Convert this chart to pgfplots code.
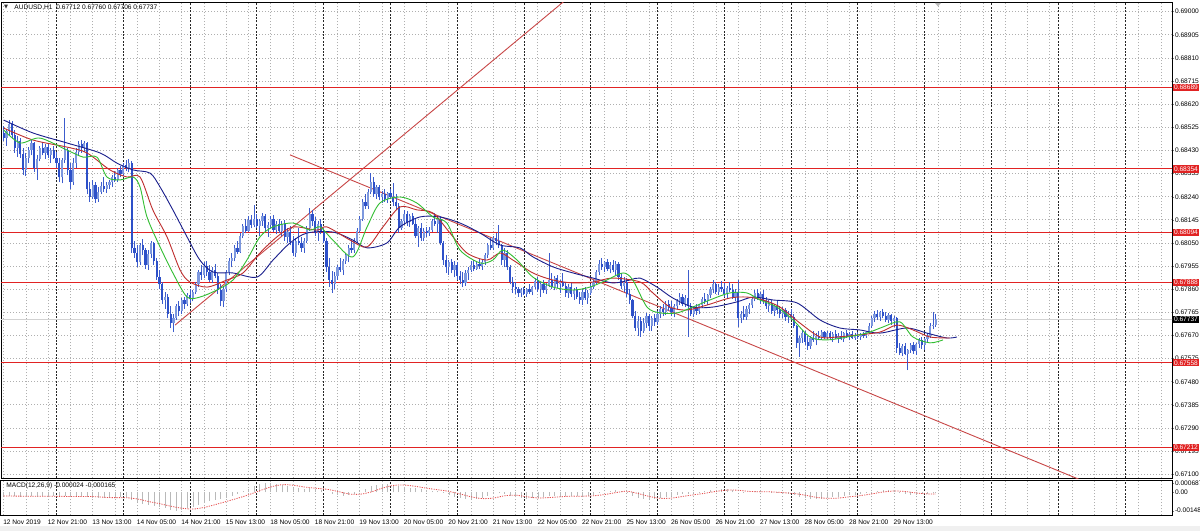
\documentclass[border=0pt]{standalone}
\usepackage{fontspec}
\setmainfont{Liberation Sans}
\newfontfamily\dejavu{DejaVu Sans}
\usepackage{pgfplots}
\usepackage{pgfplotstable}
\pgfplotsset{compat=1.18}
\newcommand\tf{\fontsize{3.3}{3.8}\selectfont}

\definecolor{cbear}{RGB}{45,80,200}
\definecolor{cbull}{RGB}{125,152,222}
\definecolor{cwick}{RGB}{60,92,205}
\definecolor{cjaw}{RGB}{25,30,140}
\definecolor{cteeth}{RGB}{190,45,45}
\definecolor{clips}{RGB}{50,190,50}
\definecolor{chl}{RGB}{225,35,35}
\definecolor{ctl}{RGB}{200,70,70}
\definecolor{cgrid}{RGB}{175,175,175}

% AUDUSD H1 candles: bar index, open, high, low, close
\pgfplotstableread{
i o h l c
0 0.68500 0.68530 0.68470 0.68480
1 0.68480 0.68520 0.68450 0.68510
2 0.68510 0.68555 0.68490 0.68540
3 0.68540 0.68550 0.68480 0.68495
4 0.68495 0.68515 0.68420 0.68440
5 0.68440 0.68490 0.68405 0.68470
6 0.68470 0.68480 0.68400 0.68415
7 0.68415 0.68440 0.68330 0.68350
8 0.68350 0.68420 0.68325 0.68400
9 0.68400 0.68445 0.68380 0.68430
10 0.68430 0.68475 0.68410 0.68460
11 0.68460 0.68465 0.68340 0.68360
12 0.68360 0.68410 0.68310 0.68395
13 0.68395 0.68450 0.68385 0.68440
14 0.68440 0.68465 0.68410 0.68420
15 0.68420 0.68455 0.68395 0.68445
16 0.68445 0.68460 0.68400 0.68410
17 0.68410 0.68440 0.68380 0.68430
18 0.68430 0.68450 0.68395 0.68400
19 0.68400 0.68425 0.68360 0.68380
20 0.68380 0.68400 0.68300 0.68320
21 0.68320 0.68400 0.68295 0.68390
22 0.68390 0.68565 0.68380 0.68430
23 0.68430 0.68440 0.68330 0.68350
24 0.68350 0.68380 0.68270 0.68300
25 0.68300 0.68400 0.68290 0.68380
26 0.68380 0.68440 0.68360 0.68425
27 0.68425 0.68470 0.68410 0.68455
28 0.68455 0.68475 0.68420 0.68440
29 0.68440 0.68470 0.68425 0.68460
30 0.68460 0.68465 0.68250 0.68270
31 0.68270 0.68300 0.68220 0.68240
32 0.68240 0.68310 0.68230 0.68290
33 0.68290 0.68300 0.68215 0.68230
34 0.68230 0.68280 0.68220 0.68260
35 0.68260 0.68300 0.68250 0.68285
36 0.68285 0.68320 0.68260 0.68270
37 0.68270 0.68300 0.68255 0.68290
38 0.68290 0.68310 0.68270 0.68300
39 0.68300 0.68330 0.68280 0.68320
40 0.68320 0.68345 0.68300 0.68310
41 0.68310 0.68360 0.68300 0.68350
42 0.68350 0.68365 0.68320 0.68335
43 0.68335 0.68380 0.68325 0.68370
44 0.68370 0.68390 0.68345 0.68360
45 0.68360 0.68395 0.68340 0.68380
46 0.68380 0.68385 0.68010 0.68030
47 0.68030 0.68060 0.67990 0.68010
48 0.68010 0.68040 0.67950 0.67970
49 0.67970 0.68050 0.67960 0.68040
50 0.68040 0.68065 0.68000 0.68020
51 0.68020 0.68030 0.67945 0.67960
52 0.67960 0.68020 0.67940 0.68005
53 0.68005 0.68060 0.67990 0.68050
54 0.68050 0.68055 0.67960 0.67975
55 0.67975 0.67990 0.67900 0.67910
56 0.67910 0.67940 0.67860 0.67880
57 0.67880 0.67890 0.67800 0.67815
58 0.67815 0.67850 0.67780 0.67830
59 0.67830 0.67840 0.67740 0.67760
60 0.67760 0.67790 0.67700 0.67720
61 0.67720 0.67760 0.67684 0.67740
62 0.67740 0.67800 0.67735 0.67790
63 0.67790 0.67810 0.67750 0.67770
64 0.67770 0.67825 0.67760 0.67815
65 0.67815 0.67830 0.67780 0.67800
66 0.67800 0.67845 0.67790 0.67835
67 0.67835 0.67860 0.67805 0.67820
68 0.67820 0.67855 0.67810 0.67850
69 0.67850 0.67890 0.67840 0.67880
70 0.67880 0.67940 0.67870 0.67930
71 0.67930 0.67960 0.67900 0.67920
72 0.67920 0.67970 0.67905 0.67955
73 0.67955 0.67975 0.67915 0.67930
74 0.67930 0.67960 0.67890 0.67900
75 0.67900 0.67950 0.67885 0.67940
76 0.67940 0.67965 0.67905 0.67915
77 0.67915 0.67925 0.67840 0.67855
78 0.67855 0.67880 0.67790 0.67810
79 0.67810 0.67870 0.67787 0.67860
80 0.67860 0.67940 0.67850 0.67930
81 0.67930 0.67990 0.67920 0.67975
82 0.67975 0.68010 0.67950 0.67990
83 0.67990 0.68040 0.67975 0.68030
84 0.68030 0.68060 0.68005 0.68015
85 0.68015 0.68090 0.68010 0.68080
86 0.68080 0.68130 0.68070 0.68120
87 0.68120 0.68150 0.68090 0.68100
88 0.68100 0.68160 0.68095 0.68145
89 0.68145 0.68165 0.68110 0.68125
90 0.68125 0.68206 0.68115 0.68150
91 0.68150 0.68170 0.68110 0.68120
92 0.68120 0.68150 0.68080 0.68140
93 0.68140 0.68175 0.68120 0.68160
94 0.68160 0.68170 0.68100 0.68110
95 0.68110 0.68135 0.68075 0.68125
96 0.68125 0.68160 0.68110 0.68150
97 0.68150 0.68165 0.68095 0.68105
98 0.68105 0.68140 0.68085 0.68130
99 0.68130 0.68150 0.68090 0.68100
100 0.68100 0.68140 0.68080 0.68130
101 0.68130 0.68145 0.68060 0.68075
102 0.68075 0.68110 0.68050 0.68095
103 0.68095 0.68120 0.68040 0.68055
104 0.68055 0.68080 0.67995 0.68010
105 0.68010 0.68070 0.67993 0.68060
106 0.68060 0.68110 0.68040 0.68050
107 0.68050 0.68075 0.68015 0.68030
108 0.68030 0.68070 0.68010 0.68060
109 0.68060 0.68120 0.68050 0.68110
110 0.68110 0.68194 0.68100 0.68170
111 0.68170 0.68185 0.68120 0.68140
112 0.68140 0.68157 0.68080 0.68090
113 0.68090 0.68140 0.68060 0.68130
114 0.68130 0.68150 0.68085 0.68100
115 0.68100 0.68110 0.68050 0.68060
116 0.68060 0.68070 0.67930 0.67950
117 0.67950 0.67990 0.67870 0.67900
118 0.67900 0.67935 0.67845 0.67880
119 0.67880 0.67930 0.67860 0.67915
120 0.67915 0.67960 0.67900 0.67950
121 0.67950 0.67990 0.67930 0.67940
122 0.67940 0.67985 0.67920 0.67975
123 0.67975 0.68010 0.67965 0.68000
124 0.68000 0.68040 0.67970 0.68030
125 0.68030 0.68062 0.68010 0.68020
126 0.68020 0.68070 0.68010 0.68060
127 0.68060 0.68110 0.68050 0.68100
128 0.68100 0.68160 0.68090 0.68150
129 0.68150 0.68230 0.68140 0.68220
130 0.68220 0.68250 0.68190 0.68200
131 0.68200 0.68270 0.68190 0.68260
132 0.68260 0.68337 0.68250 0.68300
133 0.68300 0.68320 0.68240 0.68250
134 0.68250 0.68290 0.68230 0.68280
135 0.68280 0.68290 0.68225 0.68240
136 0.68240 0.68265 0.68214 0.68250
137 0.68250 0.68270 0.68220 0.68230
138 0.68230 0.68260 0.68215 0.68255
139 0.68255 0.68270 0.68230 0.68240
140 0.68240 0.68296 0.68200 0.68220
141 0.68220 0.68250 0.68186 0.68200
142 0.68200 0.68214 0.68091 0.68110
143 0.68110 0.68150 0.68105 0.68140
144 0.68140 0.68186 0.68125 0.68170
145 0.68170 0.68180 0.68120 0.68135
146 0.68135 0.68170 0.68116 0.68160
147 0.68160 0.68175 0.68125 0.68130
148 0.68130 0.68150 0.68070 0.68080
149 0.68080 0.68120 0.68034 0.68110
150 0.68110 0.68132 0.68060 0.68070
151 0.68070 0.68110 0.68060 0.68100
152 0.68100 0.68116 0.68075 0.68090
153 0.68090 0.68115 0.68080 0.68105
154 0.68105 0.68150 0.68095 0.68140
155 0.68140 0.68173 0.68120 0.68130
156 0.68130 0.68160 0.68091 0.68150
157 0.68150 0.68160 0.68040 0.68050
158 0.68050 0.68060 0.67960 0.67980
159 0.67980 0.68000 0.67927 0.67950
160 0.67950 0.67980 0.67920 0.67970
161 0.67970 0.67985 0.67925 0.67940
162 0.67940 0.67975 0.67910 0.67960
163 0.67960 0.67970 0.67900 0.67915
164 0.67915 0.67935 0.67880 0.67900
165 0.67900 0.67930 0.67869 0.67885
166 0.67885 0.67939 0.67875 0.67925
167 0.67925 0.67950 0.67900 0.67940
168 0.67940 0.67975 0.67930 0.67960
169 0.67960 0.67980 0.67935 0.67945
170 0.67945 0.67975 0.67940 0.67965
171 0.67965 0.67985 0.67945 0.67955
172 0.67955 0.67980 0.67940 0.67970
173 0.67970 0.68010 0.67960 0.68000
174 0.68000 0.68050 0.67990 0.68040
175 0.68040 0.68070 0.68020 0.68030
176 0.68030 0.68080 0.68020 0.68070
177 0.68070 0.68091 0.68040 0.68060
178 0.68060 0.68124 0.68030 0.68040
179 0.68040 0.68045 0.67960 0.67980
180 0.67980 0.68030 0.67950 0.68010
181 0.68010 0.68020 0.67940 0.67950
182 0.67950 0.67960 0.67880 0.67890
183 0.67890 0.67910 0.67845 0.67870
184 0.67870 0.67890 0.67840 0.67860
185 0.67860 0.67869 0.67830 0.67845
186 0.67845 0.67865 0.67828 0.67855
187 0.67855 0.67870 0.67835 0.67840
188 0.67840 0.67865 0.67830 0.67860
189 0.67860 0.67880 0.67840 0.67850
190 0.67850 0.67875 0.67835 0.67870
191 0.67870 0.67905 0.67860 0.67895
192 0.67895 0.67910 0.67850 0.67860
193 0.67860 0.67890 0.67830 0.67880
194 0.67880 0.67900 0.67845 0.67855
195 0.67855 0.67885 0.67840 0.67875
196 0.67875 0.68009 0.67870 0.67900
197 0.67900 0.67927 0.67860 0.67870
198 0.67870 0.67915 0.67855 0.67905
199 0.67905 0.67920 0.67865 0.67880
200 0.67880 0.67900 0.67845 0.67890
201 0.67890 0.67925 0.67870 0.67875
202 0.67875 0.67890 0.67830 0.67845
203 0.67845 0.67880 0.67825 0.67870
204 0.67870 0.67886 0.67830 0.67840
205 0.67840 0.67865 0.67816 0.67855
206 0.67855 0.67870 0.67820 0.67830
207 0.67830 0.67850 0.67800 0.67815
208 0.67815 0.67860 0.67795 0.67850
209 0.67850 0.67869 0.67815 0.67825
210 0.67825 0.67855 0.67800 0.67845
211 0.67845 0.67880 0.67835 0.67870
212 0.67870 0.67898 0.67860 0.67890
213 0.67890 0.67940 0.67880 0.67930
214 0.67930 0.67980 0.67920 0.67965
215 0.67965 0.67990 0.67940 0.67950
216 0.67950 0.67975 0.67930 0.67970
217 0.67970 0.67985 0.67935 0.67945
218 0.67945 0.67970 0.67925 0.67960
219 0.67960 0.67980 0.67930 0.67940
220 0.67940 0.67975 0.67920 0.67965
221 0.67965 0.67970 0.67900 0.67910
222 0.67910 0.67927 0.67860 0.67875
223 0.67875 0.67910 0.67850 0.67890
224 0.67890 0.67905 0.67830 0.67840
225 0.67840 0.67860 0.67800 0.67815
226 0.67815 0.67820 0.67740 0.67750
227 0.67750 0.67770 0.67690 0.67700
228 0.67700 0.67750 0.67670 0.67730
229 0.67730 0.67745 0.67664 0.67690
230 0.67690 0.67740 0.67680 0.67720
231 0.67720 0.67762 0.67700 0.67750
232 0.67750 0.67760 0.67690 0.67710
233 0.67710 0.67750 0.67690 0.67740
234 0.67740 0.67760 0.67710 0.67725
235 0.67725 0.67770 0.67715 0.67760
236 0.67760 0.67790 0.67740 0.67780
237 0.67780 0.67800 0.67750 0.67765
238 0.67765 0.67810 0.67755 0.67800
239 0.67800 0.67816 0.67770 0.67785
240 0.67785 0.67810 0.67750 0.67765
241 0.67765 0.67800 0.67745 0.67790
242 0.67790 0.67820 0.67780 0.67810
243 0.67810 0.67845 0.67795 0.67830
244 0.67830 0.67840 0.67790 0.67800
245 0.67800 0.67835 0.67787 0.67825
246 0.67825 0.67939 0.67664 0.67790
247 0.67790 0.67804 0.67750 0.67760
248 0.67760 0.67790 0.67746 0.67785
249 0.67785 0.67800 0.67755 0.67770
250 0.67770 0.67800 0.67760 0.67795
251 0.67795 0.67830 0.67785 0.67820
252 0.67820 0.67845 0.67800 0.67810
253 0.67810 0.67840 0.67795 0.67835
254 0.67835 0.67870 0.67825 0.67860
255 0.67860 0.67898 0.67845 0.67880
256 0.67880 0.67890 0.67840 0.67850
257 0.67850 0.67880 0.67835 0.67870
258 0.67870 0.67895 0.67850 0.67860
259 0.67860 0.67885 0.67830 0.67840
260 0.67840 0.67875 0.67825 0.67865
261 0.67865 0.67890 0.67850 0.67855
262 0.67855 0.67880 0.67820 0.67830
263 0.67830 0.67860 0.67810 0.67850
264 0.67850 0.67898 0.67705 0.67740
265 0.67740 0.67770 0.67721 0.67760
266 0.67760 0.67790 0.67735 0.67745
267 0.67745 0.67790 0.67735 0.67780
268 0.67780 0.67804 0.67760 0.67795
269 0.67795 0.67830 0.67785 0.67820
270 0.67820 0.67857 0.67810 0.67845
271 0.67845 0.67860 0.67815 0.67825
272 0.67825 0.67850 0.67800 0.67840
273 0.67840 0.67855 0.67800 0.67810
274 0.67810 0.67830 0.67780 0.67790
275 0.67790 0.67816 0.67765 0.67805
276 0.67805 0.67815 0.67760 0.67770
277 0.67770 0.67800 0.67750 0.67790
278 0.67790 0.67810 0.67760 0.67775
279 0.67775 0.67790 0.67740 0.67760
280 0.67760 0.67787 0.67740 0.67775
281 0.67775 0.67785 0.67730 0.67745
282 0.67745 0.67770 0.67721 0.67760
283 0.67760 0.67780 0.67735 0.67745
284 0.67745 0.67760 0.67700 0.67710
285 0.67710 0.67715 0.67620 0.67640
286 0.67640 0.67670 0.67582 0.67660
287 0.67660 0.67693 0.67640 0.67680
288 0.67680 0.67690 0.67630 0.67645
289 0.67645 0.67670 0.67611 0.67625
290 0.67625 0.67670 0.67615 0.67660
291 0.67660 0.67690 0.67645 0.67650
292 0.67650 0.67680 0.67630 0.67670
293 0.67670 0.67690 0.67650 0.67660
294 0.67660 0.67693 0.67652 0.67685
295 0.67685 0.67690 0.67655 0.67665
296 0.67665 0.67690 0.67655 0.67680
297 0.67680 0.67690 0.67652 0.67660
298 0.67660 0.67685 0.67645 0.67675
299 0.67675 0.67693 0.67655 0.67660
300 0.67660 0.67680 0.67639 0.67670
301 0.67670 0.67690 0.67650 0.67655
302 0.67655 0.67685 0.67645 0.67680
303 0.67680 0.67693 0.67660 0.67665
304 0.67665 0.67685 0.67650 0.67675
305 0.67675 0.67690 0.67655 0.67660
306 0.67660 0.67680 0.67652 0.67670
307 0.67670 0.67685 0.67655 0.67662
308 0.67662 0.67680 0.67652 0.67675
309 0.67675 0.67685 0.67660 0.67668
310 0.67668 0.67690 0.67660 0.67685
311 0.67685 0.67720 0.67675 0.67710
312 0.67710 0.67750 0.67700 0.67740
313 0.67740 0.67770 0.67725 0.67760
314 0.67760 0.67775 0.67735 0.67745
315 0.67745 0.67770 0.67730 0.67765
316 0.67765 0.67780 0.67740 0.67750
317 0.67750 0.67765 0.67725 0.67735
318 0.67735 0.67762 0.67720 0.67755
319 0.67755 0.67760 0.67715 0.67730
320 0.67730 0.67750 0.67705 0.67740
321 0.67740 0.67745 0.67600 0.67620
322 0.67620 0.67640 0.67590 0.67600
323 0.67600 0.67635 0.67585 0.67625
324 0.67625 0.67639 0.67590 0.67595
325 0.67595 0.67615 0.67528 0.67610
326 0.67610 0.67640 0.67600 0.67630
327 0.67630 0.67645 0.67595 0.67605
328 0.67605 0.67640 0.67590 0.67635
329 0.67635 0.67660 0.67620 0.67650
330 0.67650 0.67664 0.67615 0.67630
331 0.67630 0.67660 0.67611 0.67655
332 0.67655 0.67680 0.67640 0.67670
333 0.67670 0.67720 0.67660 0.67710
334 0.67710 0.67767 0.67695 0.67712
335 0.67712 0.67760 0.67706 0.67737
}\candles

% MACD main (histogram)
\pgfplotstableread{
i m
0 -0.00030
2 -0.00028
4 -0.00032
6 -0.00036
8 -0.00038
10 -0.00034
12 -0.00036
14 -0.00033
16 -0.00032
18 -0.00034
20 -0.00038
22 -0.00035
24 -0.00038
26 -0.00034
28 -0.00030
30 -0.00036
32 -0.00045
34 -0.00050
36 -0.00050
38 -0.00048
40 -0.00046
42 -0.00042
44 -0.00040
46 -0.00060
48 -0.00080
50 -0.00092
52 -0.00100
54 -0.00108
56 -0.00118
58 -0.00130
60 -0.00142
62 -0.00148
64 -0.00140
66 -0.00128
68 -0.00115
70 -0.00100
72 -0.00085
74 -0.00072
76 -0.00062
78 -0.00058
80 -0.00045
82 -0.00030
84 -0.00012
86 0.00005
88 0.00025
90 0.00045
92 0.00060
94 0.00068
96 0.00069
98 0.00064
100 0.00056
102 0.00045
104 0.00035
106 0.00028
108 0.00025
110 0.00028
112 0.00026
114 0.00018
116 0.00000
118 -0.00015
120 -0.00025
122 -0.00028
124 -0.00022
126 -0.00012
128 0.00005
130 0.00025
132 0.00045
134 0.00058
136 0.00063
138 0.00062
140 0.00058
142 0.00045
144 0.00038
146 0.00035
148 0.00028
150 0.00020
152 0.00012
154 0.00008
156 0.00006
158 -0.00010
160 -0.00025
162 -0.00038
164 -0.00048
166 -0.00055
168 -0.00058
170 -0.00055
172 -0.00045
174 -0.00030
176 -0.00015
178 -0.00008
180 -0.00015
182 -0.00028
184 -0.00040
186 -0.00048
188 -0.00052
190 -0.00050
192 -0.00045
194 -0.00040
196 -0.00035
198 -0.00030
200 -0.00030
202 -0.00032
204 -0.00035
206 -0.00035
208 -0.00033
210 -0.00030
212 -0.00022
214 -0.00010
216 0.00000
218 0.00008
220 0.00012
222 0.00008
224 -0.00010
226 -0.00028
228 -0.00045
230 -0.00055
232 -0.00058
234 -0.00055
236 -0.00048
238 -0.00040
240 -0.00032
242 -0.00022
244 -0.00015
246 -0.00012
248 -0.00008
250 -0.00003
252 0.00005
254 0.00012
256 0.00018
258 0.00022
260 0.00020
262 0.00015
264 0.00000
266 -0.00003
268 0.00000
270 0.00005
272 0.00005
274 0.00000
276 -0.00005
278 -0.00008
280 -0.00012
282 -0.00015
284 -0.00022
286 -0.00038
288 -0.00048
290 -0.00055
292 -0.00055
294 -0.00052
296 -0.00048
298 -0.00042
300 -0.00036
302 -0.00030
304 -0.00025
306 -0.00020
308 -0.00015
310 -0.00008
312 0.00002
314 0.00010
316 0.00014
318 0.00014
320 0.00012
322 -0.00005
324 -0.00015
326 -0.00020
328 -0.00020
330 -0.00016
332 -0.00012
334 -0.00004
335 -0.000024
}\macdmain

% MACD signal
\pgfplotstableread{
i s
0 -0.00032
8 -0.00033
16 -0.00034
24 -0.00035
32 -0.00036
38 -0.00044
44 -0.00045
48 -0.00055
52 -0.00075
56 -0.00092
60 -0.00112
64 -0.00128
68 -0.00135
72 -0.00122
76 -0.00100
80 -0.00075
84 -0.00050
88 -0.00022
92 0.00010
96 0.00040
100 0.00058
104 0.00054
108 0.00040
112 0.00030
116 0.00022
120 0.00005
124 -0.00015
128 -0.00018
132 0.00000
136 0.00030
140 0.00052
144 0.00055
148 0.00045
152 0.00030
156 0.00018
160 0.00005
164 -0.00015
168 -0.00038
172 -0.00052
176 -0.00048
180 -0.00030
184 -0.00025
188 -0.00038
192 -0.00047
196 -0.00044
200 -0.00038
204 -0.00033
208 -0.00033
212 -0.00030
216 -0.00020
220 -0.00005
224 0.00006
228 -0.00012
232 -0.00035
236 -0.00050
240 -0.00048
244 -0.00035
248 -0.00022
252 -0.00010
256 0.00005
260 0.00015
264 0.00014
268 0.00005
272 0.00002
276 0.00001
280 -0.00005
284 -0.00012
288 -0.00025
292 -0.00042
296 -0.00050
300 -0.00048
304 -0.00038
308 -0.00028
312 -0.00015
316 0.00000
320 0.00008
324 0.00004
328 -0.00008
332 -0.00015
335 -0.000165
}\macdsig

\pgfplotsset{
  mtgrid/.style={
    xtick={0,8,...,416}, xmajorgrids, ymajorgrids,
    major grid style={cgrid, dash pattern=on 0.6pt off 0.9pt, line width=0.45pt},
    extra x ticks={19,43,...,403}, extra x tick labels={},
    extra x tick style={grid=major, major grid style={black!85, dash pattern=on 1pt off 0.7pt, line width=0.45pt}},
  },
}

\begin{document}
\begin{tikzpicture}
\fill[white] (0,0) rectangle (600pt,265.5pt);
\fill[gray!12] (0,0) rectangle (600pt,2.5pt);
\useasboundingbox (0,0) rectangle (600pt,265.5pt);

\begin{axis}[
  at={(0.5pt,26.5pt)}, anchor=south west,
  scale only axis, width=585.5pt, height=237.5pt,
  xmin=-0.97, xmax=419.9, ymin=0.670849, ymax=0.690357,
  axis line style={black, line width=0.5pt},
  clip mode=individual,
  mtgrid, xticklabels={}, xtick style={draw=none},
  ytick={0.67100,0.67195,0.67290,0.67385,0.67480,0.67575,0.67670,0.67765,0.67860,0.67955,0.68050,0.68145,0.68240,0.68335,0.68430,0.68525,0.68620,0.68715,0.68810,0.68905,0.69000},
  yticklabels={0.67100,0.67195,0.67290,0.67385,0.67480,0.67575,0.67670,0.67765,0.67860,0.67955,0.68050,0.68145,0.68240,0.68335,0.68430,0.68525,0.68620,0.68715,0.68810,0.68905,0.69000},
  ytick pos=right, yticklabel pos=right, tick align=outside,
  major tick length=1pt, scaled y ticks=false,
  yticklabel style={font=\tf, inner sep=0.3pt},
  ]
  % bid line
  \addplot[gray!35, line width=0.5pt] coordinates {(-2,0.67737) (421,0.67737)};
  % horizontal levels
  \addplot[chl, line width=0.5pt] coordinates {(-2,0.68689) (421,0.68689)};
  \addplot[chl, line width=0.5pt] coordinates {(-2,0.68354) (421,0.68354)};
  \addplot[chl, line width=0.5pt] coordinates {(-2,0.68094) (421,0.68094)};
  \addplot[chl, line width=0.5pt] coordinates {(-2,0.67888) (421,0.67888)};
  \addplot[chl, line width=0.5pt] coordinates {(-2,0.67558) (421,0.67558)};
  \addplot[chl, line width=0.5pt] coordinates {(-2,0.67212) (421,0.67212)};
  % trend lines
  \addplot[ctl, line width=0.45pt] coordinates {(61.6,0.67713) (205,0.69077)};
  \addplot[ctl, line width=0.45pt] coordinates {(102.9,0.68412) (400,0.67016)};
  % wicks
  \addplot[draw=none, mark=none, error bars/.cd, y dir=plus, y explicit, error mark=none,
    error bar style={draw=cwick, line width=0.5pt}]
    table[x=i, y=l, y error expr=\thisrow{h}-\thisrow{l}] {\candles};
  % bull bodies
  \addplot[draw=none, mark=none, restrict expr to domain={\thisrow{c}-\thisrow{o}}{0:1},
    error bars/.cd, y dir=plus, y explicit, error mark=none,
    error bar style={draw=cbull, line width=1.1pt}]
    table[x=i, y=o, y error expr=\thisrow{c}-\thisrow{o}] {\candles};
  % bear bodies
  \addplot[draw=none, mark=none, restrict expr to domain={\thisrow{o}-\thisrow{c}}{0.000001:1},
    error bars/.cd, y dir=plus, y explicit, error mark=none,
    error bar style={draw=cbear, line width=1.1pt}]
    table[x=i, y=c, y error expr=\thisrow{o}-\thisrow{c}] {\candles};
  % Alligator: jaw
  \addplot[cjaw, line width=0.45pt, smooth] coordinates {
    (0,0.68555) (10.5,0.68502) (22.7,0.68461) (34.6,0.68420) (40.7,0.68378) (46.5,0.68350)
    (52.6,0.68337) (56.2,0.68280) (60.8,0.68186) (65.9,0.68075) (70.5,0.67980) (75.2,0.67931)
    (82.4,0.67927) (91.0,0.67910) (96.8,0.67980) (102.9,0.68050) (109.0,0.68091) (118.3,0.68095)
    (125.5,0.68062) (130.6,0.68030) (137.7,0.68050) (142.4,0.68116) (149.6,0.68157) (156.8,0.68157)
    (164.0,0.68132) (171.2,0.68091) (178.4,0.68042) (185.5,0.68030) (190.2,0.67993) (197.4,0.67952)
    (204.6,0.67927) (211.8,0.67906) (219.0,0.67886) (225.1,0.67898) (228.7,0.67906) (234.8,0.67869)
    (240.5,0.67824) (247.7,0.67787) (254.9,0.67787) (263.5,0.67808) (269.3,0.67828) (276.5,0.67816)
    (285.1,0.67804) (293.4,0.67734) (300.5,0.67701) (307.7,0.67693) (314.9,0.67680) (324.6,0.67701)
    (331.8,0.67680) (339.0,0.67660) (342.6,0.67664)};
  % teeth
  \addplot[cteeth, line width=0.45pt, smooth] coordinates {
    (0,0.68522) (10.5,0.68473) (22.7,0.68444) (29.9,0.68420) (38.2,0.68350) (44.3,0.68321)
    (49.0,0.68321) (53.6,0.68186) (58.7,0.68075) (63.4,0.67939) (66.9,0.67890) (73.1,0.67869)
    (80.2,0.67898) (86.0,0.67927) (92.1,0.68009) (98.2,0.68075) (104.0,0.68116) (112.6,0.68103)
    (116.2,0.68116) (124.5,0.68062) (130.6,0.68034) (136.3,0.68116) (142.4,0.68198) (148.5,0.68186)
    (154.3,0.68173) (160.4,0.68091) (166.5,0.68009) (173.7,0.67980) (178.4,0.68009) (183.0,0.67980)
    (190.2,0.67927) (197.4,0.67898) (204.6,0.67886) (211.8,0.67890) (219.0,0.67906) (228.7,0.67890)
    (233.3,0.67845) (239.5,0.67787) (245.6,0.67775) (252.7,0.67795) (261.0,0.67824) (267.1,0.67828)
    (272.9,0.67816) (279.0,0.67787) (286.2,0.67721) (293.4,0.67664) (299.5,0.67664) (306.7,0.67672)
    (314.9,0.67684) (321.0,0.67713) (326.8,0.67693) (332.9,0.67664) (340.0,0.67660)};
  % lips
  \addplot[clips, line width=0.45pt, smooth] coordinates {
    (0,0.68514) (5.9,0.68461) (13.0,0.68481) (22.7,0.68432) (28.5,0.68403) (33.5,0.68403)
    (37.1,0.68321) (41.8,0.68309) (46.5,0.68321) (49.0,0.68280) (51.5,0.68157) (56.2,0.68034)
    (60.8,0.67927) (65.9,0.67828) (70.5,0.67828) (76.6,0.67857) (82.4,0.67898) (87.4,0.67980)
    (92.1,0.68075) (96.8,0.68116) (104.0,0.68132) (110.1,0.68103) (113.7,0.68116) (118.3,0.68062)
    (125.5,0.67993) (130.6,0.68116) (135.2,0.68214) (142.4,0.68239) (148.5,0.68214) (154.3,0.68157)
    (159.3,0.68132) (164.0,0.68021) (171.2,0.67968) (175.8,0.67980) (179.4,0.68021) (184.5,0.67980)
    (190.2,0.67910) (197.4,0.67869) (204.6,0.67857) (210.7,0.67869) (216.8,0.67898) (222.6,0.67927)
    (226.1,0.67898) (231.2,0.67787) (235.9,0.67763) (242.0,0.67763) (247.7,0.67787) (253.8,0.67816)
    (261.0,0.67845) (267.1,0.67845) (271.8,0.67816) (277.9,0.67787) (283.7,0.67734) (289.8,0.67664)
    (295.9,0.67652) (303.1,0.67664) (310.2,0.67680) (316.0,0.67705) (322.1,0.67726) (326.8,0.67664)
    (332.9,0.67640) (337.6,0.67652)};
  \coordinate (L1) at (axis cs:419.9,0.68689);
  \coordinate (L2) at (axis cs:419.9,0.68354);
  \coordinate (L3) at (axis cs:419.9,0.68094);
  \coordinate (L4) at (axis cs:419.9,0.67888);
  \coordinate (L5) at (axis cs:419.9,0.67558);
  \coordinate (L6) at (axis cs:419.9,0.67212);
  \coordinate (LB) at (axis cs:419.9,0.67737);
\end{axis}

\begin{axis}[
  at={(0.5pt,8pt)}, anchor=south west,
  scale only axis, width=585.5pt, height=17.5pt,
  xmin=-0.97, xmax=419.9, ymin=-0.00182, ymax=0.00095,
  axis line style={black, line width=0.5pt},
  clip mode=individual,
  mtgrid, ymajorgrids=false,
  xticklabels={12 Nov 2019,,12 Nov 21:00,,13 Nov 13:00,,14 Nov 05:00,,14 Nov 21:00,,15 Nov 13:00,,18 Nov 05:00,,18 Nov 21:00,,19 Nov 13:00,,20 Nov 05:00,,20 Nov 21:00,,21 Nov 13:00,,22 Nov 05:00,,22 Nov 21:00,,25 Nov 13:00,,26 Nov 05:00,,26 Nov 21:00,,27 Nov 13:00,,28 Nov 05:00,,28 Nov 21:00,,29 Nov 13:00},
  xtick style={draw=none},
  tick align=outside, major tick length=1pt,
  xticklabel style={font=\tf, anchor=north west, inner sep=0pt, xshift=-0.4pt, yshift=-1.4pt},
  ytick={-0.00148,0,0.000687}, yticklabels={-0.00148,0.00,0.000687},
  ytick pos=right, yticklabel pos=right, scaled y ticks=false,
  yticklabel style={font=\tf, inner sep=0.3pt},
  ]
  \addplot[ycomb, gray!55, line width=0.35pt] table[x=i, y=m] {\macdmain};
  \addplot[chl!80, line width=0.4pt, dash pattern=on 0.6pt off 0.6pt, smooth] table[x=i, y=s] {\macdsig};
\end{axis}

% price labels on the right
\foreach \c/\t in {L1/0.68689, L2/0.68354, L3/0.68094, L4/0.67888, L5/0.67558, L6/0.67212}
  \node[fill=chl, text=white, font=\tf, anchor=west, inner xsep=0.5pt, inner ysep=0.6pt, xshift=0.3pt] at (\c) {\t};
\node[fill=black, text=white, font=\tf, anchor=west, inner xsep=0.5pt, inner ysep=0.6pt, xshift=0.3pt] at (LB) {0.67737};

% headers
\node[anchor=center, inner sep=0pt, font=\fontsize{2.6}{3}\dejavu, text=black!80] at (3pt,261.9pt) {▼};
\node[anchor=west, inner sep=0pt, font=\tf] at (7pt,261.9pt) {AUDUSD,H1};
\node[anchor=west, inner sep=0pt, font=\tf] at (28pt,261.9pt) {0.67712 0.67760 0.67706 0.67737};
\node[anchor=west, inner sep=0pt, font=\tf] at (3pt,22.5pt) {MACD(12,26,9) -0.000024 -0.000165};
\fill[gray!55] (467.5pt,264pt) -- (470.5pt,264pt) -- (469pt,262.3pt) -- cycle;
\end{tikzpicture}
\end{document}
